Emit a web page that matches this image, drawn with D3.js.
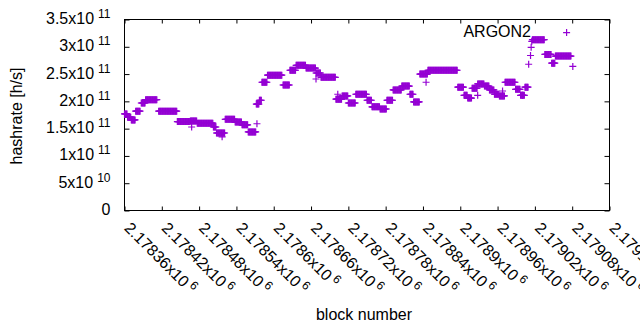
<!DOCTYPE html>
<html>
<head>
<meta charset="utf-8">
<script src="https://cdnjs.cloudflare.com/ajax/libs/d3/7.8.5/d3.min.js"></script>
<style>
body { margin: 0; background: #fff; }
svg { display: block; font-family: "Liberation Sans", Arial, sans-serif; }
</style>
</head>
<body>
<svg width="640" height="330"></svg>
<script>
// hashrate runs: constant value from runStart up to (not incl.) runEnd
var runStart = [2178360, 2178365, 2178371, 2178378, 2178387, 2178394, 2178415, 2178445, 2178466, 2178477,
    2178503, 2178508, 2178522, 2178538, 2178549, 2178559, 2178572, 2178577, 2178581, 2178590,
    2178615, 2178626, 2178636, 2178652, 2178668, 2178676, 2178700, 2178710, 2178720, 2178732,
    2178750, 2178758, 2178771, 2178782, 2178792, 2178806, 2178819, 2178825, 2178835, 2178848,
    2178896, 2178906, 2178912, 2178919, 2178928, 2178939, 2178947, 2178955, 2178963, 2178972,
    2178989, 2178997, 2179004, 2179016, 2179036, 2179047, 2179053];
var runEnd = [2178365, 2178371, 2178378, 2178386, 2178394, 2178413, 2178445, 2178466, 2178477, 2178503,
    2178508, 2178522, 2178538, 2178549, 2178559, 2178572, 2178577, 2178581, 2178590, 2178614,
    2178626, 2178636, 2178652, 2178668, 2178676, 2178700, 2178710, 2178720, 2178732, 2178750,
    2178758, 2178771, 2178782, 2178792, 2178806, 2178819, 2178825, 2178835, 2178848, 2178896,
    2178906, 2178912, 2178919, 2178928, 2178939, 2178947, 2178955, 2178963, 2178972, 2178989,
    2178997, 2179004, 2179010, 2179036, 2179047, 2179053, 2179079];
var runValue = [1.77e11, 1.71e11, 1.66e11, 1.82e11, 1.97e11, 2.03e11, 1.82e11, 1.63e11, 1.64e11, 1.60e11,
    1.53e11, 1.42e11, 1.67e11, 1.62e11, 1.57e11, 1.44e11, 1.95e11, 2.02e11, 2.35e11, 2.48e11,
    2.30e11, 2.57e11, 2.66e11, 2.61e11, 2.52e11, 2.44e11, 2.04e11, 2.10e11, 1.97e11, 2.13e11,
    2.02e11, 1.90e11, 1.86e11, 2.02e11, 2.21e11, 2.28e11, 2.13e11, 1.99e11, 2.50e11, 2.57e11,
    2.26e11, 2.11e11, 2.06e11, 2.24e11, 2.32e11, 2.28e11, 2.21e11, 2.13e11, 2.10e11, 2.35e11,
    2.22e11, 2.11e11, 2.26e11, 3.13e11, 2.86e11, 2.70e11, 2.83e11];

// single scattered blocks
var oddBlock = [2178468, 2178517, 2178573, 2178668, 2178703, 2178845, 2178928, 2178968, 2179000,
    2179010, 2179013, 2179014, 2179015, 2179071, 2179081];
var oddValue = [1.53e11, 1.35e11, 1.59e11, 2.41e11, 2.13e11, 2.35e11, 2.11e11, 2.19e11, 2.11e11,
    2.68e11, 2.84e11, 2.99e11, 3.10e11, 3.26e11, 2.64e11];

var xTicks = [2178360, 2178420, 2178480, 2178540, 2178600, 2178660, 2178720,
    2178780, 2178840, 2178900, 2178960, 2179020, 2179080, 2179140];
var xTickBase = ["2.17836x10", "2.17842x10", "2.17848x10", "2.17854x10", "2.1786x10", "2.17866x10", "2.17872x10",
    "2.17878x10", "2.17884x10", "2.1789x10", "2.17896x10", "2.17902x10", "2.17908x10", "2.17914x10"];
var xTickExp = "6";

var yTicks = [0, 5e10, 1e11, 1.5e11, 2e11, 2.5e11, 3e11, 3.5e11];
var yTickBase = ["0", "5x10", "1x10", "1.5x10", "2x10", "2.5x10", "3x10", "3.5x10"];
var yTickExp = ["", "10", "11", "11", "11", "11", "11", "11"];

var seriesName = "ARGON2";
var color = "#9400d3";

var svg = d3.select("svg");

var x = d3.scaleLinear().domain([2178360, 2179140]).range([124.5, 609.5]),
    y = d3.scaleLinear().domain([0, 3.5e11]).range([210.5, 19.5]);

// expand runs into one point per block
var points = [];
runStart.forEach(function (s, i) {
    for (var b = s; b < runEnd[i]; b++) points.push({ block: b, value: runValue[i] });
});
oddBlock.forEach(function (b, i) { points.push({ block: b, value: oddValue[i] }); });

// axes, ticks pointing inwards, mirrored
svg.append("g")
    .attr("transform", "translate(0,210.5)")
    .call(d3.axisBottom(x).tickValues(xTicks).tickSizeInner(-4).tickSizeOuter(0).tickFormat(""));
svg.append("g")
    .attr("transform", "translate(0,19.5)")
    .call(d3.axisTop(x).tickValues(xTicks).tickSizeInner(-4).tickSizeOuter(0).tickFormat(""));
svg.append("g")
    .attr("transform", "translate(124.5,0)")
    .call(d3.axisLeft(y).tickValues(yTicks).tickSizeInner(-5).tickSizeOuter(0).tickFormat(""));
svg.append("g")
    .attr("transform", "translate(609.5,0)")
    .call(d3.axisRight(y).tickValues(yTicks).tickSizeInner(-5).tickSizeOuter(0).tickFormat(""));
svg.selectAll(".domain").remove();
svg.selectAll(".tick line").attr("stroke", "#000");

svg.append("rect")
    .attr("x", 124.5).attr("y", 19.5)
    .attr("width", 485).attr("height", 191)
    .attr("fill", "none").attr("stroke", "#000");

// y tick labels
var yl = svg.append("g").selectAll("text")
    .data(yTicks)
    .enter().append("text")
    .attr("x", 110.5)
    .attr("y", function (d) { return y(d) + 4.5; })
    .attr("text-anchor", "end")
    .attr("font-size", "16px")
    .attr("fill", "#000")
    .text(function (d, i) { return yTickBase[i]; });
yl.filter(function (d, i) { return yTickExp[i] !== ""; })
    .append("tspan")
    .attr("dx", 4).attr("dy", -6)
    .attr("font-size", "12px")
    .text(function (d) { return yTickExp[yTicks.indexOf(d)]; });

// x tick labels, rotated
var xl = svg.append("g").selectAll("text")
    .data(xTicks)
    .enter().append("text")
    .attr("transform", function (d) { return "translate(" + (x(d) - 1) + ",229) rotate(45)"; })
    .attr("text-anchor", "start")
    .attr("font-size", "16px")
    .attr("fill", "#000")
    .text(function (d, i) { return xTickBase[i]; });
xl.append("tspan")
    .attr("dx", 3).attr("dy", -6)
    .attr("font-size", "12px")
    .text(xTickExp);

// axis titles
svg.append("text")
    .attr("transform", "translate(21.5,116) rotate(-90)")
    .attr("text-anchor", "middle")
    .attr("font-size", "16px")
    .text("hashrate [h/s]");
svg.append("text")
    .attr("x", 364).attr("y", 320)
    .attr("text-anchor", "middle")
    .attr("font-size", "16px")
    .text("block number");

// key
svg.append("text")
    .attr("x", 531).attr("y", 36.5)
    .attr("text-anchor", "end")
    .attr("font-size", "16px")
    .text(seriesName);

// points as '+'
svg.append("g")
    .selectAll("path")
    .data(points)
    .enter().append("path")
    .attr("transform", function (d) { return "translate(" + x(d.block) + "," + y(d.value) + ")"; })
    .attr("d", "M-3.5,0H3.5M0,-3.5V3.5")
    .attr("fill", "none")
    .attr("stroke", color)
    .attr("stroke-width", 1.2);
</script>
</body>
</html>
